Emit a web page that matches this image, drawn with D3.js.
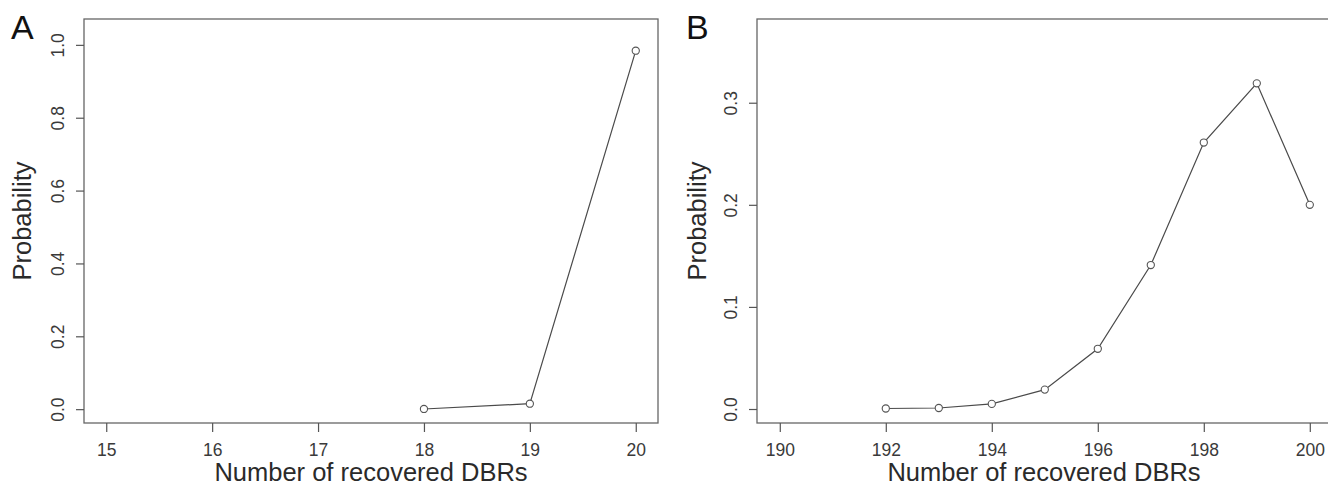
<!DOCTYPE html>
<html>
<head>
<meta charset="utf-8">
<script src="https://cdn.jsdelivr.net/npm/d3@7"></script>
<style>
  html, body { margin: 0; padding: 0; background: #fff; }
  svg { display: block; font-family: "Liberation Sans", Arial, Helvetica, sans-serif; }
  .box { fill: none; stroke: #666; stroke-width: 1.3; }
  .tick line { stroke: #555; stroke-width: 1.2; }
  .tick text { fill: #3a3a3a; font-size: 17.5px; }
  .series { fill: none; stroke: #4a4a4a; stroke-width: 1.2; }
  .pt { fill: #fff; stroke: #555; stroke-width: 1.1; }
  .title { fill: #2a2a2a; font-size: 25.5px; }
  .panel { fill: #111; font-size: 34px; }
</style>
</head>
<body>
<script>
//=====================DATA=====================

const recoveredA = [18, 19, 20]
const probA = [0.0005, 0.015, 0.984]

const recoveredB = [192, 193, 194, 195, 196, 197, 198, 199, 200]
const probB = [0.0005, 0.001, 0.005, 0.019, 0.059, 0.141, 0.261, 0.319, 0.2]

const xTicksA = [15, 16, 17, 18, 19, 20]
const yTicksA = [0, 0.2, 0.4, 0.6, 0.8, 1.0]
const xTicksB = [190, 192, 194, 196, 198, 200]
const yTicksB = [0, 0.1, 0.2, 0.3]

const panelLabels = ['A', 'B']
const xTitle = 'Number of recovered DBRs'
const yTitle = 'Probability'

//=====================STRUCTURE===================

const width = 1328
const height = 492

const svg = d3.select('body')
.append('svg')
.attr('width', width)
.attr('height', height)

const panels = [
	{
		label: panelLabels[0],
		xs: recoveredA, ys: probA,
		xTicks: xTicksA, yTicks: yTicksA,
		xDomain: [14.79, 20.21], yDomain: [-0.038, 1.071],
		left: 84, right: 658, top: 19, bottom: 423,
		labelX: 11, yTitleX: 31
	},
	{
		label: panelLabels[1],
		xs: recoveredB, ys: probB,
		xTicks: xTicksB, yTicks: yTicksB,
		xDomain: [189.57, 200.4], yDomain: [-0.0137, 0.382],
		left: 757, right: 1331, top: 19, bottom: 423,
		labelX: 686, yTitleX: 706
	}
]

const makePanel = (p) => {

	const x = d3.scaleLinear().domain(p.xDomain).range([p.left, p.right])
	const y = d3.scaleLinear().domain(p.yDomain).range([p.bottom, p.top])

	const g = svg.append('g')

	// frame
	g.append('rect')
	.attr('class', 'box')
	.attr('x', p.left)
	.attr('y', p.top)
	.attr('width', p.right - p.left)
	.attr('height', p.bottom - p.top)

	// x axis
	const gx = g.append('g')
	.attr('transform', `translate(0,${p.bottom})`)
	.call(d3.axisBottom(x).tickValues(p.xTicks).tickSize(9).tickPadding(12).tickFormat(d3.format('d')))
	gx.select('.domain').remove()

	// y axis, labels rotated like base R
	const gy = g.append('g')
	.attr('transform', `translate(${p.left},0)`)
	.call(d3.axisLeft(y).tickValues(p.yTicks).tickSize(8).tickFormat(d3.format('.1f')))
	gy.select('.domain').remove()
	gy.selectAll('.tick text')
	.attr('x', null)
	.attr('dy', null)
	.attr('text-anchor', 'middle')
	.attr('transform', 'translate(-20,0) rotate(-90)')

	// line + points
	const pts = p.xs.map((d, i) => [d, p.ys[i]])

	g.append('path')
	.attr('class', 'series')
	.attr('d', d3.line().x(d => x(d[0])).y(d => y(d[1]))(pts))

	g.selectAll('circle')
	.data(pts)
	.enter()
	.append('circle')
	.attr('class', 'pt')
	.attr('cx', d => x(d[0]))
	.attr('cy', d => y(d[1]))
	.attr('r', 3.6)

	// titles
	g.append('text')
	.attr('class', 'title')
	.attr('x', (p.left + p.right) / 2)
	.attr('y', 481)
	.attr('text-anchor', 'middle')
	.text(xTitle)

	g.append('text')
	.attr('class', 'title')
	.attr('text-anchor', 'middle')
	.attr('transform', `translate(${p.yTitleX},${(p.top + p.bottom) / 2}) rotate(-90)`)
	.text(yTitle)

	g.append('text')
	.attr('class', 'panel')
	.attr('x', p.labelX)
	.attr('y', 39)
	.text(p.label)
}

panels.forEach(makePanel)
</script>
</body>
</html>
